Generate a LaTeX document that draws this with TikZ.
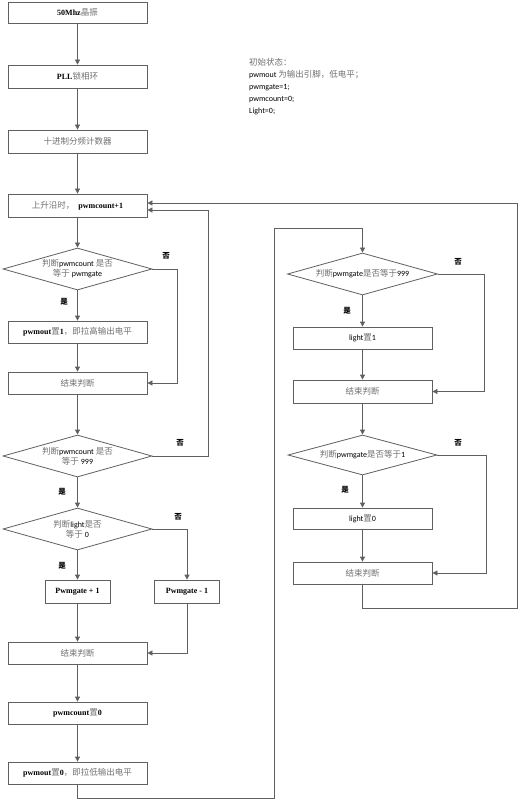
\documentclass[tikz,border=0pt]{standalone}
\usepackage{fontspec}
\setmainfont{Liberation Serif}
\newfontfamily\cjk{Noto Sans CJK SC}
\newfontfamily\calfont{Carlito}
\usetikzlibrary{shapes.geometric,arrows.meta,calc}
\definecolor{ln}{HTML}{606060}
\definecolor{zhgray}{HTML}{707070}
\newcommand\zh[1]{{\cjk\fontsize{8.5}{10}\selectfont\color{zhgray}#1}}
\newcommand\yn[1]{{\cjk\fontsize{7.5}{9}\selectfont\bfseries #1}}
\tikzset{
  box/.style={draw=ln, line width=0.8pt, minimum width=139pt, minimum height=22pt, inner sep=0pt, font=\fontsize{8}{10}\selectfont, align=center},
  sbox/.style={box, minimum width=65pt, minimum height=23pt},
  dia/.style={diamond, draw=ln, line width=0.8pt, minimum width=149pt, minimum height=42pt, inner sep=0pt, aspect=3.5, font=\fontsize{8}{11}\selectfont, align=center},
  arr/.style={draw=ln, line width=0.8pt, -{Triangle[width=5pt,length=5pt]}},
  lab/.style={inner sep=0pt}
}
\begin{document}
\begin{tikzpicture}[x=1pt,y=-1pt]
\useasboundingbox (0,0) rectangle (518,799);
\fill[white] (0,0) rectangle (518,799);
% left column
\node[box, minimum height=21pt] (b1) at (77.5,12.5) {{\bfseries 50Mhz}\zh{晶振}};
\node[box, minimum height=23pt] (b2) at (77.5,76.5) {{\bfseries PLL}\zh{锁相环}};
\node[box, minimum height=23pt] (b3) at (77.5,141.5) {\zh{十进制分频计数器}};
\node[box, minimum height=23pt] (b4) at (77.5,205.5) {\zh{上升沿时，}\ \ {\bfseries pwmcount+1}};
\node[dia] (d1) at (77.5,269) {\zh{判断}{\calfont pwmcount} \zh{是否}\\[-1pt]\zh{等于} {\calfont pwmgate}};
\node[box] (b5) at (77.5,332) {{\bfseries pwmout}\zh{置}{\bfseries 1}\zh{，即拉高输出电平}};
\node[box] (e1) at (77.5,383) {\zh{结束判断}};
\node[dia] (d2) at (77.5,456) {\zh{判断}{\calfont pwmcount} \zh{是否}\\[-1pt]\zh{等于} {\calfont 999}};
\node[dia] (d3) at (77.5,529) {\zh{判断}{\calfont light}\zh{是否}\\[-1pt]\zh{等于} {\calfont 0}};
\node[sbox] (p1) at (77.5,591.5) {{\bfseries Pwmgate + 1}};
\node[sbox] (p2) at (187,591.5) {{\bfseries Pwmgate - 1}};
\node[box] (e2) at (77.5,653) {\zh{结束判断}};
\node[box] (b6) at (77.5,713) {{\bfseries pwmcount}\zh{置}{\bfseries 0}};
\node[box] (b7) at (77.5,773) {{\bfseries pwmout}\zh{置}{\bfseries 0}\zh{，即拉低输出电平}};
% right column
\node[dia, minimum width=150pt] (rd1) at (362.5,274) {\zh{判断}{\calfont pwmgate}\zh{是否等于}{\calfont 999}};
\node[box] (rb1) at (362.5,338) {{\calfont light}\zh{置}{\calfont 1}};
\node[box, minimum height=23pt] (re1) at (362.5,391.5) {\zh{结束判断}};
\node[dia, minimum height=40pt] (rd2) at (362.5,455) {\zh{判断}{\calfont pwmgate}\zh{是否等于}{\calfont 1}};
\node[box, minimum height=21pt] (rb2) at (362.5,518.5) {{\calfont light}\zh{置}{\calfont 0}};
\node[box] (re2) at (362.5,573) {\zh{结束判断}};
% initial state text
\node[lab, anchor=north west, align=left, font={\calfont\fontsize{8}{12}\selectfont}] (init) at (249,58)
  {\zh{初始状态：}\\pwmout \zh{为输出引脚，低电平；}\\pwmgate=1;\\pwmcount=0;\\Light=0;};
% yes/no labels
\node[lab] (n1) at (166,256) {\yn{否}};
\node[lab] (y1) at (64,302) {\yn{是}};
\node[lab] (n2) at (180,443) {\yn{否}};
\node[lab] (y2) at (62,492) {\yn{是}};
\node[lab] (n3) at (178,517) {\yn{否}};
\node[lab] (y3) at (62,566) {\yn{是}};
\node[lab] (n4) at (458,262) {\yn{否}};
\node[lab] (y4) at (347,311) {\yn{是}};
\node[lab] (n5) at (458,443) {\yn{否}};
\node[lab] (y5) at (345,490) {\yn{是}};
% connectors left
\draw[arr] (b1) -- (b2);
\draw[arr] (b2) -- (b3);
\draw[arr] (b3) -- (b4);
\draw[arr] (b4) -- (d1);
\draw[arr] (d1) -- (b5);
\draw[arr] (b5) -- (e1);
\draw[arr] (d1.east) -| ([xshift=30pt]e1.east) -- (e1.east);
\draw[arr] (e1) -- (d2);
\draw[arr] (d2.east) -| (208,210) -- ($(b4.east)+(0,4.5)$);
\draw[arr] (d2) -- (d3);
\draw[arr] (d3) -- (p1);
\draw[arr] (d3.east) -| (p2.north);
\draw[arr] (p1) -- (e2);
\draw[arr] (p2.south) |- (e2.east);
\draw[arr] (e2) -- (b6);
\draw[arr] (b6) -- (b7);
% loop to right column
\draw[arr] (b7.south) |- (274,798) -- (274,228) -| (rd1.north);
\draw[arr] (rd1) -- (rb1);
\draw[arr] (rb1) -- (re1);
\draw[arr] (rd1.east) -| ([xshift=52pt]re1.east) -- (re1.east);
\draw[arr] (re1) -- (rd2);
\draw[arr] (rd2) -- (rb2);
\draw[arr] (rb2) -- (re2);
\draw[arr] (rd2.east) -| ([xshift=54pt]re2.east) -- (re2.east);
\draw[arr] (re2.south) |- (517,608) |- ($(b4.east)+(0,-2.5)$);
\end{tikzpicture}
\end{document}
